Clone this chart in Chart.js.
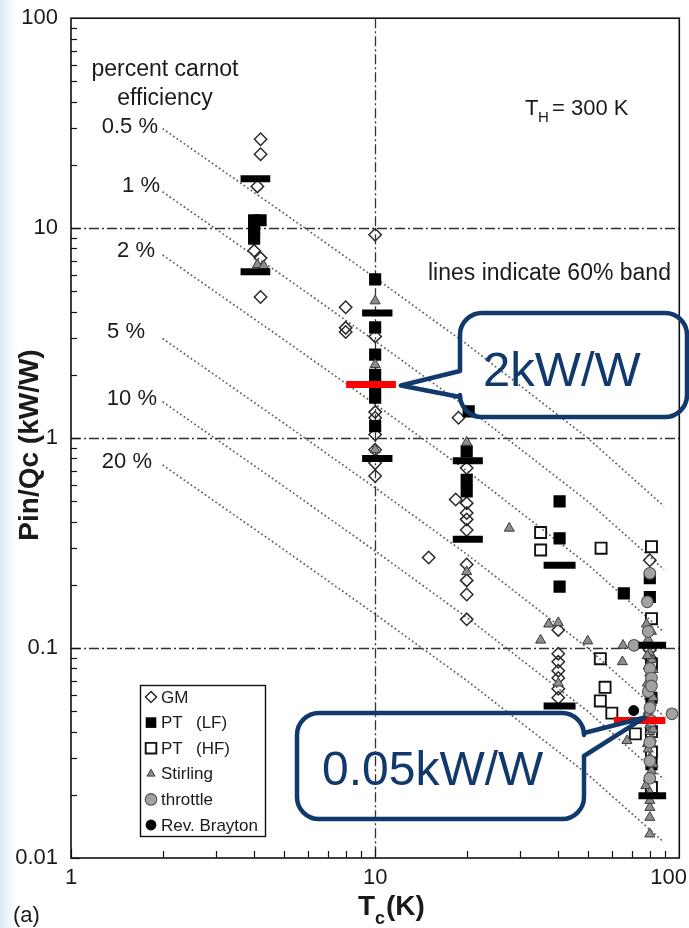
<!DOCTYPE html>
<html lang="en">
<head>
  <meta charset="UTF-8">
  <title>Pin/Qc vs Tc</title>
  <style>
    html, body { margin: 0; padding: 0; background: #fff; }
    canvas { display: block; }
  </style>
</head>
<body>
  <canvas id="chart" width="689" height="928"></canvas>

  <script src="https://cdn.jsdelivr.net/npm/chart.js@4"></script>
  <script>
    // Tc (K) and Pin/Qc (kW/W), one pair per cooler type
    const gmTc = [4.2, 4.2, 4.1, 4.0, 4.2, 4.2, 8, 8, 8, 10, 10, 10, 10, 10, 10, 10, 10, 15, 18.4, 18.8, 20, 20, 20, 20, 20, 20, 20, 20, 20, 40, 40, 40, 40, 40, 40, 40, 80, 80, 80];
    const gmVal = [26.5, 22.5, 15.8, 7.8, 7.2, 4.7, 4.2, 3.35, 3.2, 9.3, 3.05, 1.33, 1.25, 1.04, 0.88, 0.76, 0.66, 0.27, 0.51, 1.25, 0.72, 0.49, 0.44, 0.41, 0.365, 0.25, 0.21, 0.18, 0.137, 0.122, 0.094, 0.086, 0.078, 0.072, 0.064, 0.058, 0.262, 0.098, 0.09];

    const ptlfTc = [4.0, 4.0, 4.0, 4.2, 10, 10, 10, 10, 10, 10, 10, 20.3, 20, 20, 20, 40.4, 40.4, 40.4, 65.7, 80, 80, 81, 81];
    const ptlfVal = [10.9, 9.9, 8.9, 10.9, 5.7, 3.37, 2.5, 2.0, 1.77, 1.56, 1.14, 1.34, 0.865, 0.633, 0.557, 0.5, 0.333, 0.196, 0.182, 0.215, 0.175, 0.058, 0.028];

    const pthfTc = [35, 35, 55.3, 55, 57, 55, 60, 71.7, 81, 81, 81, 81, 81, 81];
    const pthfVal = [0.355, 0.293, 0.299, 0.089, 0.065, 0.056, 0.049, 0.039, 0.304, 0.138, 0.084, 0.040, 0.032, 0.0217];

    const stirlingTc = [4.1, 4.3, 10, 10, 10, 20, 20, 27.6, 37.2, 40, 35, 50, 40, 65.3, 65, 67.3, 77.6, 78, 81, 79, 80, 81, 79, 80, 81, 79, 80, 81, 79, 80, 81, 79, 80, 81, 79, 80, 80, 80, 80, 80, 78.5, 82, 78.5, 82, 78.5, 82, 78.5, 82, 80, 80];
    const stirlingVal = [6.7, 6.6, 4.5, 2.24, 0.88, 0.955, 0.231, 0.372, 0.13, 0.132, 0.109, 0.108, 0.068, 0.103, 0.086, 0.0362, 0.0221, 0.13, 0.12, 0.11, 0.095, 0.088, 0.082, 0.076, 0.07, 0.065, 0.06, 0.055, 0.05, 0.043, 0.037, 0.033, 0.03, 0.026, 0.024, 0.0174, 0.0156, 0.013, 0.046, 0.04, 0.092, 0.079, 0.068, 0.058, 0.048, 0.041, 0.035, 0.028, 0.0205, 0.0188];

    const throttleTc = [80, 78.5, 71, 80, 81, 79, 80, 81, 80, 80, 80, 94.6, 79, 81];
    const throttleVal = [0.227, 0.166, 0.103, 0.08, 0.072, 0.062, 0.052, 0.045, 0.0356, 0.029, 0.024, 0.0486, 0.12, 0.066];

    const braytonTc = [70.8];
    const braytonVal = [0.0504];

    // 60% bands (black) and the highlighted levels (red)
    const bandLeft = [3.61, 9.06, 18.0, 35.8, 73.4];
    const bandRight = [4.52, 11.4, 22.6, 45.6, 90.5];
    const bandHigh = [17.2, 3.94, 0.78, 0.248, 0.103];
    const bandLow = [6.2, 0.80, 0.33, 0.053, 0.0198];
    const redLeft = [8.03, 61.0];
    const redRight = [11.7, 90.0];
    const redVal = [1.80, 0.0452];
    const redNotes = ['2kW/W', '0.05kW/W'];

    // percent-of-Carnot lines, read at these Tc
    const carnotTc = [2, 5, 10, 20, 50, 89];
    const carnot05 = [29.8, 11.8, 5.8, 2.8, 1.0, 0.474];
    const carnot1 = [14.9, 5.9, 2.9, 1.4, 0.5, 0.237];
    const carnot2 = [7.45, 2.95, 1.45, 0.7, 0.25, 0.119];
    const carnot5 = [2.98, 1.18, 0.58, 0.28, 0.1, 0.0474];
    const carnot10 = [1.49, 0.59, 0.29, 0.14, 0.05, 0.0237];
    const carnot20 = [0.745, 0.295, 0.145, 0.07, 0.025, 0.0119];
    const carnotLabels = ['0.5 %', '1 %', '2 %', '5 %', '10 %', '20 %'];

    const xTicks = [1, 10, 100];
    const xTickLabels = ['1', '10', '100'];
    const yTicks = [0.01, 0.1, 1, 10, 100];
    const yTickLabels = ['0.01', '0.1', '1', '10', '100'];

    const FONT = "'Liberation Sans', Arial, Helvetica, sans-serif";
    const NAVY = '#12396b';

    const pts = (xs, ys) => xs.map((x, i) => ({ x, y: ys[i] }));

    const markerStyles = {
      gm:       { pointStyle: 'rectRot',  pointRadius: 6.2, pointBackgroundColor: 'rgba(255,255,255,0)', pointBorderColor: '#2a2a2a', pointBorderWidth: 1.5 },
      ptlf:     { pointStyle: 'rect',     pointRadius: 8.6, pointBackgroundColor: '#000', pointBorderColor: '#000', pointBorderWidth: 0 },
      pthf:     { pointStyle: 'rect',     pointRadius: 7.8, pointBackgroundColor: 'rgba(255,255,255,0)', pointBorderColor: '#111', pointBorderWidth: 1.9 },
      stirling: { pointStyle: 'triangle', pointRadius: 5.8, pointBackgroundColor: '#8e8e8e', pointBorderColor: '#3a3a3a', pointBorderWidth: 1 },
      throttle: { pointStyle: 'circle',   pointRadius: 5.8, pointBackgroundColor: '#a2a2a2', pointBorderColor: '#555', pointBorderWidth: 1.1 },
      brayton:  { pointStyle: 'circle',   pointRadius: 5.4, pointBackgroundColor: '#000', pointBorderColor: '#000', pointBorderWidth: 0 }
    };

    const datasets = [];
    [carnot05, carnot1, carnot2, carnot5, carnot10, carnot20].forEach((vals, i) => {
      datasets.push({
        label: carnotLabels[i], data: pts(carnotTc, vals), showLine: true, pointRadius: 0,
        borderColor: '#5e5e5e', borderWidth: 1.7, borderDash: [1.7, 2.6], order: 20
      });
    });
    [['GM', gmTc, gmVal, 'gm'], ['PT (LF)', ptlfTc, ptlfVal, 'ptlf'], ['PT (HF)', pthfTc, pthfVal, 'pthf'],
     ['Stirling', stirlingTc, stirlingVal, 'stirling'], ['throttle', throttleTc, throttleVal, 'throttle'],
     ['Rev. Brayton', braytonTc, braytonVal, 'brayton']].forEach(([label, xs, ys, key], i) => {
      datasets.push(Object.assign({ label, data: pts(xs, ys), showLine: false, order: 10 - i }, markerStyles[key]));
    });
    bandLeft.forEach((l, i) => {
      [bandHigh[i], bandLow[i]].forEach(v => {
        datasets.push({ label: 'band', data: [{ x: l, y: v }, { x: bandRight[i], y: v }], showLine: true,
          pointRadius: 0, borderColor: '#000', borderWidth: 7, borderCapStyle: 'butt', order: 1 });
      });
    });
    redLeft.forEach((l, i) => {
      datasets.push({ label: 'highlight', data: [{ x: l, y: redVal[i] }, { x: redRight[i], y: redVal[i] }], showLine: true,
        pointRadius: 0, borderColor: '#ff0000', borderWidth: 7, borderCapStyle: 'butt', order: 0 });
    });

    function text(ctx, str, x, y, font, align, color) {
      ctx.font = font;
      ctx.textAlign = align || 'left';
      ctx.fillStyle = color || '#1a1a1a';
      ctx.fillText(str, x, y);
    }

    function marker(ctx, style, x, y) {
      const r = style.pointRadius;
      ctx.beginPath();
      if (style.pointStyle === 'rectRot') {
        ctx.moveTo(x, y - r); ctx.lineTo(x + r, y); ctx.lineTo(x, y + r); ctx.lineTo(x - r, y); ctx.closePath();
      } else if (style.pointStyle === 'rect') {
        const s = r * Math.SQRT1_2; ctx.rect(x - s, y - s, 2 * s, 2 * s);
      } else if (style.pointStyle === 'triangle') {
        const w = r * Math.sqrt(3) / 2;
        ctx.moveTo(x, y - r); ctx.lineTo(x + w, y + r / 2); ctx.lineTo(x - w, y + r / 2); ctx.closePath();
      } else {
        ctx.arc(x, y, r, 0, Math.PI * 2);
      }
      ctx.fillStyle = style.pointBackgroundColor; ctx.fill();
      if (style.pointBorderWidth > 0) {
        ctx.lineWidth = style.pointBorderWidth; ctx.strokeStyle = style.pointBorderColor; ctx.stroke();
      }
    }

    function callout(ctx, b, tip, side, base) {
      const { x, y, w, h, r } = b;
      ctx.beginPath();
      ctx.moveTo(x + r, y);
      ctx.lineTo(x + w - r, y);
      ctx.arcTo(x + w, y, x + w, y + r, r);
      if (side === 'right') { ctx.lineTo(x + w, base[0]); ctx.lineTo(tip.x, tip.y); ctx.lineTo(x + w, base[1]); }
      ctx.lineTo(x + w, y + h - r);
      ctx.arcTo(x + w, y + h, x + w - r, y + h, r);
      ctx.lineTo(x + r, y + h);
      ctx.arcTo(x, y + h, x, y + h - r, r);
      if (side === 'left') { ctx.lineTo(x, base[1]); ctx.lineTo(tip.x, tip.y); ctx.lineTo(x, base[0]); }
      ctx.lineTo(x, y + r);
      ctx.arcTo(x, y, x + r, y, r);
      ctx.closePath();
      ctx.lineJoin = 'round';
      ctx.lineWidth = 4.5;
      ctx.strokeStyle = NAVY;
      ctx.stroke();
    }

    const decorations = {
      id: 'decorations',
      beforeDraw(chart) {
        const ctx = chart.ctx;
        ctx.save();
        ctx.fillStyle = '#fff';
        ctx.fillRect(0, 0, chart.width, chart.height);
        const g = ctx.createLinearGradient(0, 0, 22, 0);
        g.addColorStop(0, '#d9e7f7');
        g.addColorStop(1, 'rgba(255,255,255,0)');
        ctx.fillStyle = g;
        ctx.fillRect(0, 0, 22, chart.height);
        ctx.restore();
      },
      beforeDatasetsDraw(chart) {
        const { ctx, chartArea: a, scales: { x, y } } = chart;
        ctx.save();
        // dash-dot grid at inner decades
        ctx.strokeStyle = '#333';
        ctx.lineWidth = 1.3;
        ctx.setLineDash([10, 3, 2, 3]);
        yTicks.slice(1, -1).forEach(v => {
          const py = Math.round(y.getPixelForValue(v)) + 0.5;
          ctx.beginPath(); ctx.moveTo(a.left, py); ctx.lineTo(a.right, py); ctx.stroke();
        });
        xTicks.slice(1, -1).forEach(v => {
          const px = Math.round(x.getPixelForValue(v)) + 0.5;
          ctx.beginPath(); ctx.moveTo(px, a.top); ctx.lineTo(px, a.bottom); ctx.stroke();
        });
        ctx.setLineDash([]);
        // minor and major tick marks, pointing inward
        ctx.strokeStyle = '#111';
        ctx.lineWidth = 1.2;
        yTicks.slice(0, -1).forEach(d => {
          for (let k = 1; k < 10; k++) {
            const py = Math.round(y.getPixelForValue(d * k)) + 0.5;
            ctx.beginPath(); ctx.moveTo(a.left, py); ctx.lineTo(a.left + (k === 1 ? 9 : 6), py); ctx.stroke();
          }
        });
        xTicks.slice(0, -1).forEach(d => {
          for (let k = 1; k < 10; k++) {
            const px = Math.round(x.getPixelForValue(d * k)) + 0.5;
            ctx.beginPath(); ctx.moveTo(px, a.bottom); ctx.lineTo(px, a.bottom - (k === 1 ? 9 : 7)); ctx.stroke();
          }
        });
        // frame
        ctx.lineWidth = 1.6;
        ctx.strokeStyle = '#111';
        ctx.strokeRect(a.left, a.top, a.right - a.left, a.bottom - a.top);
        // x tick labels (kept inside the canvas)
        ctx.font = '22px ' + FONT;
        ctx.fillStyle = '#1a1a1a';
        ctx.textBaseline = 'middle';
        ctx.textAlign = 'left';
        xTicks.forEach((v, i) => {
          const w = ctx.measureText(xTickLabels[i]).width;
          let left = x.getPixelForValue(v) - w / 2;
          left = Math.min(left, chart.width - 2 - w);
          ctx.fillText(xTickLabels[i], left, a.bottom + 20);
        });
        ctx.restore();
      },
      afterDatasetsDraw(chart) {
        const { ctx, scales: { x, y } } = chart;
        ctx.save();
        ctx.textBaseline = 'alphabetic';

        // axis titles
        ctx.save();
        ctx.translate(30, 445);
        ctx.rotate(-Math.PI / 2);
        ctx.textBaseline = 'middle';
        text(ctx, 'Pin/Qc (kW/W)', 0, 0, 'bold 28px ' + FONT, 'center');
        ctx.restore();
        text(ctx, 'T', 358, 915, 'bold 28px ' + FONT);
        text(ctx, 'c', 375, 924, 'bold 18px ' + FONT);
        text(ctx, '(K)', 386, 915, 'bold 28px ' + FONT);
        text(ctx, '(a)', 13, 922, '22px ' + FONT);

        // notes
        text(ctx, 'percent carnot', 165, 76, '23px ' + FONT, 'center');
        text(ctx, 'efficiency', 165, 105, '23px ' + FONT, 'center');
        const labelPos = [[158, 133], [160, 192], [155, 257], [145, 338], [157, 405], [152, 468]];
        carnotLabels.forEach((s, i) => text(ctx, s, labelPos[i][0], labelPos[i][1], '22px ' + FONT, 'right'));
        text(ctx, 'T', 525, 115, '22px ' + FONT);
        text(ctx, 'H', 538, 122, '15px ' + FONT);
        text(ctx, '= 300 K', 552, 115, '22px ' + FONT);
        text(ctx, 'lines indicate 60% band', 428, 280, '23px ' + FONT);

        // legend
        const lg = { x: 140, y: 685, w: 125, h: 151 };
        ctx.fillStyle = '#fff';
        ctx.fillRect(lg.x, lg.y, lg.w, lg.h);
        ctx.lineWidth = 1.4;
        ctx.strokeStyle = '#111';
        ctx.strokeRect(lg.x + 0.5, lg.y + 0.5, lg.w, lg.h);
        const rows = [['gm', 'GM'], ['ptlf', 'PT', '(LF)'], ['pthf', 'PT', '(HF)'], ['stirling', 'Stirling'], ['throttle', 'throttle'], ['brayton', 'Rev. Brayton']];
        rows.forEach((r, i) => {
          const cy = 697 + i * 25.6;
          const st = Object.assign({}, markerStyles[r[0]]);
          st.pointRadius = Math.min(st.pointRadius, r[0] === 'gm' ? 5.5 : 7.5);
          if (r[0] === 'stirling') st.pointRadius = 4.6;
          marker(ctx, st, 151, cy);
          ctx.textBaseline = 'middle';
          text(ctx, r[1], 161, cy + 1, '17px ' + FONT);
          if (r[2]) text(ctx, r[2], 196, cy + 1, '17px ' + FONT);
        });
        ctx.textBaseline = 'alphabetic';

        // callouts pointing at the red levels
        const tip1 = { x: x.getPixelForValue(redRight[0]) + 5, y: y.getPixelForValue(redVal[0]) + 1 };
        callout(ctx, { x: 460, y: 313, w: 227, h: 104, r: 22 }, tip1, 'left', [371, 397]);
        text(ctx, redNotes[0], 483, 386, '49px ' + FONT, 'left', NAVY);
        const tip2 = { x: x.getPixelForValue(77), y: y.getPixelForValue(redVal[1]) - 3 };
        callout(ctx, { x: 297, y: 713, w: 287, h: 106, r: 22 }, tip2, 'right', [733, 756]);
        text(ctx, redNotes[1], 322, 785, '48px ' + FONT, 'left', NAVY);
        ctx.restore();
      }
    };

    new Chart(document.getElementById('chart').getContext('2d'), {
      type: 'scatter',
      data: { datasets },
      options: {
        responsive: false,
        animation: false,
        devicePixelRatio: 1,
        layout: { padding: { top: 18, right: 8, left: 0, bottom: 0 } },
        plugins: { legend: { display: false }, tooltip: { enabled: false } },
        scales: {
          x: {
            type: 'logarithmic', min: 1, max: 100,
            grid: { display: false }, border: { display: false },
            ticks: { display: false },
            afterFit: s => { s.height = 70; }
          },
          y: {
            type: 'logarithmic', min: 0.01, max: 100,
            grid: { display: false }, border: { display: false },
            ticks: {
              autoSkip: false, padding: 5, color: '#1a1a1a',
              font: { family: FONT, size: 22 },
              callback: v => {
                const i = yTicks.findIndex(t => Math.abs(Math.log10(t) - Math.log10(v)) < 1e-6);
                return i >= 0 ? yTickLabels[i] : '';
              }
            },
            afterFit: s => { s.width = 71; }
          }
        }
      },
      plugins: [decorations]
    });
  </script>
</body>
</html>
